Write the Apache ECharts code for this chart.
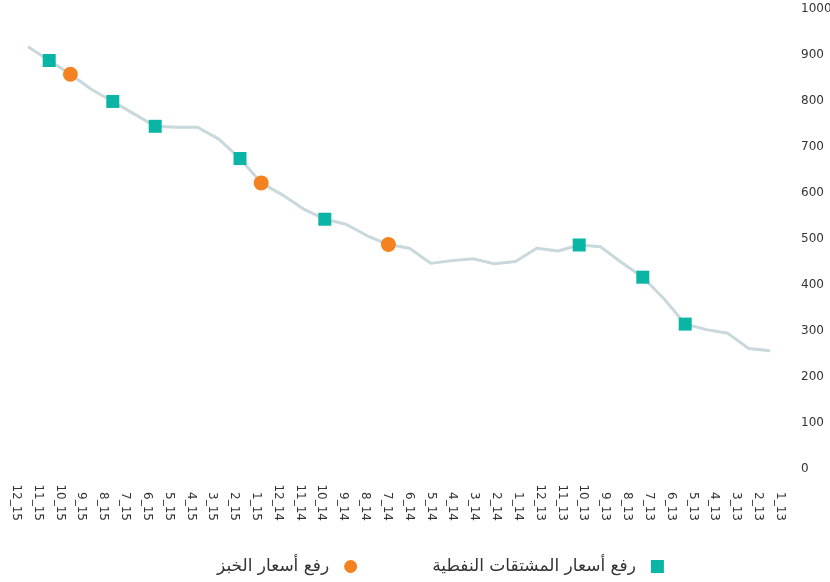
<!DOCTYPE html>
<html>
<head>
<meta charset="utf-8">
<style>
  html, body { margin: 0; padding: 0; background: #fff; }
  #chart { width: 830px; height: 582px; }
</style>
<script src="https://cdn.jsdelivr.net/npm/echarts@6/dist/echarts.min.js"></script>
</head>
<body>
<div id="chart"></div>
<script>
const months = [
  "12_15", "11_15", "10_15", "9_15", "8_15", "7_15", "6_15", "5_15", "4_15",
  "3_15", "2_15", "1_15", "12_14", "11_14", "10_14", "9_14", "8_14", "7_14",
  "6_14", "5_14", "4_14", "3_14", "2_14", "1_14", "12_13", "11_13", "10_13",
  "9_13", "8_13", "7_13", "6_13", "5_13", "4_13", "3_13", "2_13", "1_13",
];
const prices = [
  918, 888, 858, 825, 799, 772, 745, 743, 743,
  717, 675, 622, 596, 565, 543, 532, 507, 488,
  480, 447, 453, 457, 446, 451, 480, 474, 487,
  483, 449, 417, 370, 315, 303, 295, 262, 257,
];
const oilHikes = ["11_15", "8_15", "6_15", "2_15", "10_14", "10_13", "7_13", "5_13"];
const breadHikes = ["10_15", "1_15", "7_14"];
const oilLabel = "رفع أسعار المشتقات النفطية";
const breadLabel = "رفع أسعار الخبز";
const yTicks = { min: 0, max: 1000, step: 100 };

function pointsFor(list) {
  return list.map((m) => [m, prices[months.indexOf(m)]]);
}

const chart = echarts.init(document.getElementById("chart"));
chart.setOption({
  animation: false,
  textStyle: { fontFamily: "DejaVu Sans" },
  grid: [
    { left: 28, right: 60, top: 9, bottom: 113, outerBoundsMode: "none" },
    { left: 16, right: 50, top: 9, bottom: 113, outerBoundsMode: "none" },
  ],
  legend: {
    bottom: 2,
    left: 212,
    align: "right",
    itemGap: 75,
    itemWidth: 13,
    itemHeight: 13,
    textStyle: {
      fontSize: 17,
      color: "#333",
      fontFamily: "DejaVu Sans",
      padding: [0, 10, 0, 0],
    },
    data: [
      { name: breadLabel, icon: "circle" },
      { name: oilLabel, icon: "rect" },
    ],
  },
  xAxis: [
    {
      type: "category",
      gridIndex: 0,
      data: months,
      boundaryGap: false,
      axisLine: { show: false },
      axisTick: { show: false },
      axisLabel: { show: false },
    },
    {
      type: "category",
      gridIndex: 1,
      data: months,
      boundaryGap: false,
      axisLine: { show: false },
      axisTick: { show: false },
      axisLabel: {
        rotate: -90,
        align: "right",
        margin: 52,
        interval: 0,
        fontSize: 12,
        color: "#333",
      },
    },
  ],
  yAxis: [
    {
      type: "value",
      gridIndex: 0,
      position: "right",
      min: yTicks.min,
      max: yTicks.max,
      interval: yTicks.step,
      axisLine: { show: false },
      axisTick: { show: false },
      splitLine: { show: false },
      axisLabel: {
        margin: 31,
        fontSize: 12,
        color: "#333",
        formatter: (v) => String(v),
      },
    },
    {
      type: "value",
      gridIndex: 1,
      show: false,
      min: yTicks.min,
      max: yTicks.max,
    },
  ],
  series: [
    {
      type: "line",
      data: prices,
      symbol: "none",
      lineStyle: { color: "#c8d8dc", width: 3 },
      silent: true,
    },
    {
      name: oilLabel,
      type: "scatter",
      data: pointsFor(oilHikes),
      symbol: "rect",
      symbolSize: 13,
      itemStyle: { color: "#0bb5a6", opacity: 1 },
      z: 3,
    },
    {
      name: breadLabel,
      type: "scatter",
      data: pointsFor(breadHikes),
      symbol: "circle",
      symbolSize: 15,
      itemStyle: { color: "#f58220", opacity: 1 },
      z: 3,
    },
  ],
});
</script>
</body>
</html>
